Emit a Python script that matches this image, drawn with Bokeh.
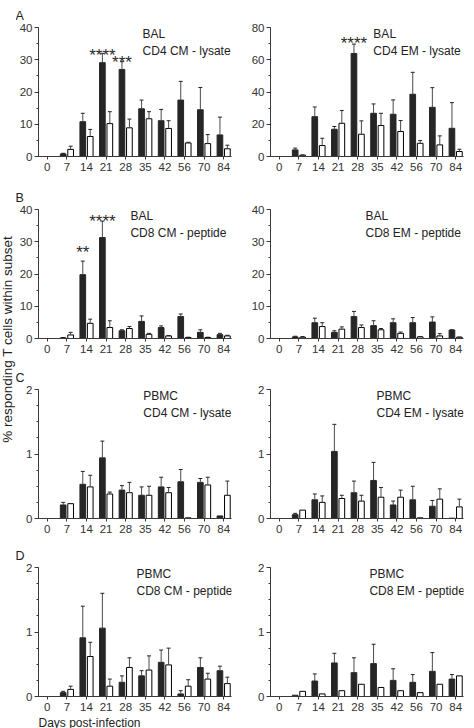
import math

from bokeh.core.properties import value
from bokeh.embed import file_html
from bokeh.models import FixedTicker, GridBox, Range1d, Title
from bokeh.plotting import figure
from bokeh.resources import INLINE

FONT = "Liberation Sans"
DARK = "#262626"
AXIS = "#3a3a3a"

# Sampling days (x categories)
days = ["0", "7", "14", "21", "28", "35", "42", "56", "70", "84"]

# Responding cells (%): first bar of each pair (filled) and second bar (open),
# each with the upper error length
bal_cd4_cm_filled = [0, 0.8, 10.8, 29.1, 27.0, 14.8, 11.1, 17.5, 14.5, 6.7]
bal_cd4_cm_filled_err = [0, 0.2, 2.6, 2.9, 2.4, 2.7, 3.5, 5.8, 6.9, 5.5]
bal_cd4_cm_open = [0, 2.2, 6.2, 10.2, 8.9, 11.7, 8.7, 4.2, 4.0, 2.4]
bal_cd4_cm_open_err = [0, 1.0, 2.2, 3.7, 2.7, 2.2, 2.4, 0.2, 2.8, 1.1]

bal_cd4_em_filled = [0, 4.1, 24.7, 16.9, 63.9, 26.8, 26.2, 38.6, 30.5, 17.5]
bal_cd4_em_filled_err = [0, 1.1, 6.0, 1.7, 5.8, 5.8, 8.9, 13.6, 12.2, 15.9]
bal_cd4_em_open = [0, 0.8, 6.8, 20.6, 13.8, 19.2, 15.5, 8.2, 7.2, 3.1]
bal_cd4_em_open_err = [0, 0.2, 4.5, 7.9, 8.3, 7.6, 6.8, 1.7, 5.6, 1.4]

bal_cd8_cm_filled = [0, 0.2, 19.8, 31.3, 2.4, 5.3, 3.4, 6.8, 1.9, 1.2]
bal_cd8_cm_filled_err = [0, 0.1, 4.2, 5.1, 0.3, 1.7, 0.5, 0.8, 0.8, 0.4]
bal_cd8_cm_open = [0, 1.1, 4.7, 3.4, 3.1, 1.3, 0.8, 0.3, 0.3, 0.8]
bal_cd8_cm_open_err = [0, 0.8, 1.3, 2.1, 0.6, 0.3, 0.1, 0.1, 0.1, 0.2]

bal_cd8_em_filled = [0, 0.5, 4.9, 1.9, 6.8, 4.0, 4.9, 4.9, 5.1, 2.6]
bal_cd8_em_filled_err = [0, 0.2, 1.4, 0.5, 1.6, 1.5, 1.2, 1.6, 1.6, 0.1]
bal_cd8_em_open = [0, 0.4, 3.7, 2.9, 3.4, 2.7, 1.6, 0.5, 0.8, 0.4]
bal_cd8_em_open_err = [0, 0.2, 1.2, 0.7, 0.8, 0.4, 0.4, 0.1, 0.7, 0.05]

pbmc_cd4_cm_filled = [0, 0.21, 0.53, 0.94, 0.44, 0.36, 0.49, 0.57, 0.56, 0.04]
pbmc_cd4_cm_filled_err = [0, 0.04, 0.20, 0.26, 0.07, 0.13, 0.15, 0.19, 0.06, 0]
pbmc_cd4_cm_open = [0, 0.23, 0.49, 0.38, 0.40, 0.36, 0.40, 0.01, 0.52, 0.36]
pbmc_cd4_cm_open_err = [0, 0, 0.18, 0.03, 0.16, 0.14, 0.08, 0, 0.12, 0.22]

pbmc_cd4_em_filled = [0, 0.06, 0.29, 1.04, 0.40, 0.59, 0.21, 0.29, 0.19, 0.005]
pbmc_cd4_em_filled_err = [0, 0.02, 0.09, 0.42, 0.18, 0.28, 0.06, 0.21, 0.09, 0]
pbmc_cd4_em_open = [0, 0.13, 0.25, 0.31, 0.27, 0.33, 0.33, 0.01, 0.30, 0.18]
pbmc_cd4_em_open_err = [0, 0, 0.10, 0.05, 0.09, 0.15, 0.11, 0, 0.16, 0.12]

pbmc_cd8_cm_filled = [0, 0.06, 0.91, 1.06, 0.22, 0.32, 0.53, 0.04, 0.45, 0.40]
pbmc_cd8_cm_filled_err = [0, 0.02, 0.49, 0.54, 0.10, 0.08, 0.19, 0.05, 0.15, 0.07]
pbmc_cd8_cm_open = [0, 0.11, 0.62, 0.16, 0.45, 0.41, 0.49, 0.16, 0.27, 0.20]
pbmc_cd8_cm_open_err = [0, 0.05, 0.22, 0.11, 0.15, 0.22, 0.26, 0.10, 0.09, 0.10]

pbmc_cd8_em_filled = [0, 0.02, 0.24, 0.52, 0.37, 0.51, 0.25, 0.22, 0.39, 0.27]
pbmc_cd8_em_filled_err = [0, 0, 0.11, 0.15, 0.23, 0.30, 0.18, 0.12, 0.29, 0.07]
pbmc_cd8_em_open = [0, 0.08, 0.04, 0.09, 0.19, 0.14, 0.09, 0.06, 0.19, 0.32]
pbmc_cd8_em_open_err = [0, 0, 0, 0, 0, 0, 0, 0, 0, 0]

# Significance marks: (day, stars, baseline height)
bal_cd4_cm_marks = [("21", "****", 31.4), ("28", "***", 29.1)]
bal_cd4_em_marks = [("28", "****", 70.0)]
bal_cd8_cm_marks = [("14", "**", 26.6), ("21", "****", 36.2)]

panel_letters = ["A", "B", "C", "D"]
y_label = "% responding T cells within subset"
x_label = "Days post-infection"

FRAME_W, FRAME_H = 193, 129
X_START, X_END = -0.45, 9.4
OFFSET, BAR_W, CAP_W = 0.19, 0.29, 0.2


def bar_panel(filled, filled_err, opened, opened_err, ymax, major, minor_n,
              site, subset, text_x, marks, left_col, top, bottom, letter=None):
    p = figure(
        frame_width=FRAME_W, frame_height=FRAME_H,
        x_range=Range1d(X_START, X_END), y_range=Range1d(0, ymax),
        output_backend="svg", toolbar_location=None,
        min_border_left=22 if left_col else 33,
        min_border_right=6 if left_col else 11,
        min_border_top=top, min_border_bottom=bottom,
        background_fill_color="white", border_fill_color="white",
    )
    p.outline_line_color = None
    p.grid.visible = False

    pos = list(range(len(days)))
    xf = [i - OFFSET for i in pos]
    xo = [i + OFFSET for i in pos]
    p.vbar(x=xf, top=filled, width=BAR_W, fill_color=DARK, line_color=DARK, line_width=1)
    p.vbar(x=xo, top=opened, width=BAR_W, fill_color="white", line_color="black", line_width=1)

    for xs, ys, es in ((xf, filled, filled_err), (xo, opened, opened_err)):
        keep = [k for k, e in enumerate(es) if e > 0]
        x = [xs[k] for k in keep]
        y0 = [ys[k] for k in keep]
        y1 = [ys[k] + es[k] for k in keep]
        p.segment(x0=x, y0=y0, x1=x, y1=y1, line_color="#4a4a4a", line_width=1)
        p.segment(x0=[v - CAP_W / 2 for v in x], y0=y1,
                  x1=[v + CAP_W / 2 for v in x], y1=y1,
                  line_color="#222222", line_width=1)

    if marks:
        p.text(x=[days.index(d) - OFFSET for d, _, _ in marks],
               y=[h for _, _, h in marks], text=[s for _, s, _ in marks],
               text_font=value(FONT), text_font_size="17px", text_color="#2a2a2a",
               text_align="center", text_baseline="alphabetic")

    p.text(x=[text_x], y=[ymax], text=[site + "\n" + subset],
           text_font=value(FONT), text_font_size="12px", text_color="#222222",
           text_align="left", text_baseline="top", text_line_height=1.25,
           y_offset=-1)

    xa = p.xaxis[0]
    xa.ticker = FixedTicker(ticks=pos)
    xa.major_label_overrides = {i: d for i, d in enumerate(days)}
    xa.major_tick_in = 0
    xa.major_tick_out = 3
    xa.major_label_standoff = 3

    ya = p.yaxis[0]
    ya.ticker = FixedTicker(
        ticks=major,
        minor_ticks=[major[0] + k * (major[1] - major[0]) / minor_n
                     for k in range(minor_n * (len(major) - 1) + 1)],
    )
    ya.major_tick_in = 0
    ya.major_tick_out = 4
    ya.minor_tick_in = 0
    ya.minor_tick_out = 2
    ya.major_label_standoff = 2

    for ax in (xa, ya):
        ax.axis_line_color = AXIS
        ax.major_tick_line_color = AXIS
        ax.minor_tick_line_color = AXIS if ax is ya else None
        ax.major_label_text_font = FONT
        ax.major_label_text_font_size = "11.5px"
        ax.major_label_text_color = "#333333"

    if letter:
        p.title.text = letter
        p.title.align = "left"
        p.title.offset = -23
        p.title.standoff = 9
        p.title.text_font = FONT
        p.title.text_font_size = "12.5px"
        p.title.text_font_style = "normal"
        p.title.text_color = "#222222"
    return p


panels = [
    bar_panel(bal_cd4_cm_filled, bal_cd4_cm_filled_err, bal_cd4_cm_open, bal_cd4_cm_open_err,
              40, [0, 10, 20, 30, 40], 2, "BAL", "CD4 CM - lysate", 4.86,
              bal_cd4_cm_marks, True, 27, 24, panel_letters[0]),
    bar_panel(bal_cd4_em_filled, bal_cd4_em_filled_err, bal_cd4_em_open, bal_cd4_em_open_err,
              80, [0, 20, 40, 60, 80], 2, "BAL", "CD4 EM - lysate", 4.8,
              bal_cd4_em_marks, False, 27, 24),
    bar_panel(bal_cd8_cm_filled, bal_cd8_cm_filled_err, bal_cd8_cm_open, bal_cd8_cm_open_err,
              40, [0, 10, 20, 30, 40], 2, "BAL", "CD8 CM - peptide", 4.24,
              bal_cd8_cm_marks, True, 29, 22, panel_letters[1]),
    bar_panel(bal_cd8_em_filled, bal_cd8_em_filled_err, bal_cd8_em_open, bal_cd8_em_open_err,
              40, [0, 10, 20, 30, 40], 2, "BAL", "CD8 EM - peptide", 4.4,
              None, False, 29, 22),
    bar_panel(pbmc_cd4_cm_filled, pbmc_cd4_cm_filled_err, pbmc_cd4_cm_open, pbmc_cd4_cm_open_err,
              2, [0, 1, 2], 4, "PBMC", "CD4 CM - lysate", 4.9,
              None, True, 29, 22, panel_letters[2]),
    bar_panel(pbmc_cd4_em_filled, pbmc_cd4_em_filled_err, pbmc_cd4_em_open, pbmc_cd4_em_open_err,
              2, [0, 1, 2], 4, "PBMC", "CD4 EM - lysate", 4.96,
              None, False, 29, 22),
    bar_panel(pbmc_cd8_cm_filled, pbmc_cd8_cm_filled_err, pbmc_cd8_cm_open, pbmc_cd8_cm_open_err,
              2, [0, 1, 2], 4, "PBMC", "CD8 CM - peptide", 4.55,
              None, True, 27, 30, panel_letters[3]),
    bar_panel(pbmc_cd8_em_filled, pbmc_cd8_em_filled_err, pbmc_cd8_em_open, pbmc_cd8_em_open_err,
              2, [0, 1, 2], 4, "PBMC", "CD8 EM - peptide", 4.6,
              None, False, 27, 30),
]

# x-axis caption under the bottom-left panel
panels[6].add_layout(
    Title(text=x_label, align="left", offset=0, standoff=0, text_font=FONT,
          text_font_size="12px", text_font_style="normal", text_color="#222222"),
    "below",
)

# Narrow strip carrying the shared, rotated y-axis caption
LABEL_H = 700
strip = figure(width=16, height=LABEL_H, x_range=Range1d(0, 16), y_range=Range1d(0, LABEL_H),
               output_backend="svg", toolbar_location=None, min_border=0,
               background_fill_color="white", border_fill_color="white")
strip.axis.visible = False
strip.grid.visible = False
strip.outline_line_color = None
strip.text(x=[7], y=[LABEL_H - 341], text=[y_label], angle=math.pi / 2,
           text_font=value(FONT), text_font_size="13.5px", text_color="#222222",
           text_align="center", text_baseline="middle")

children = [(strip, 0, 0, 4, 1)]
for k, p in enumerate(panels):
    children.append((p, k // 2, 1 + k % 2))

layout = GridBox(children=children, spacing=0)

with open("out.html", "w") as f:
    f.write(file_html(layout, INLINE))
